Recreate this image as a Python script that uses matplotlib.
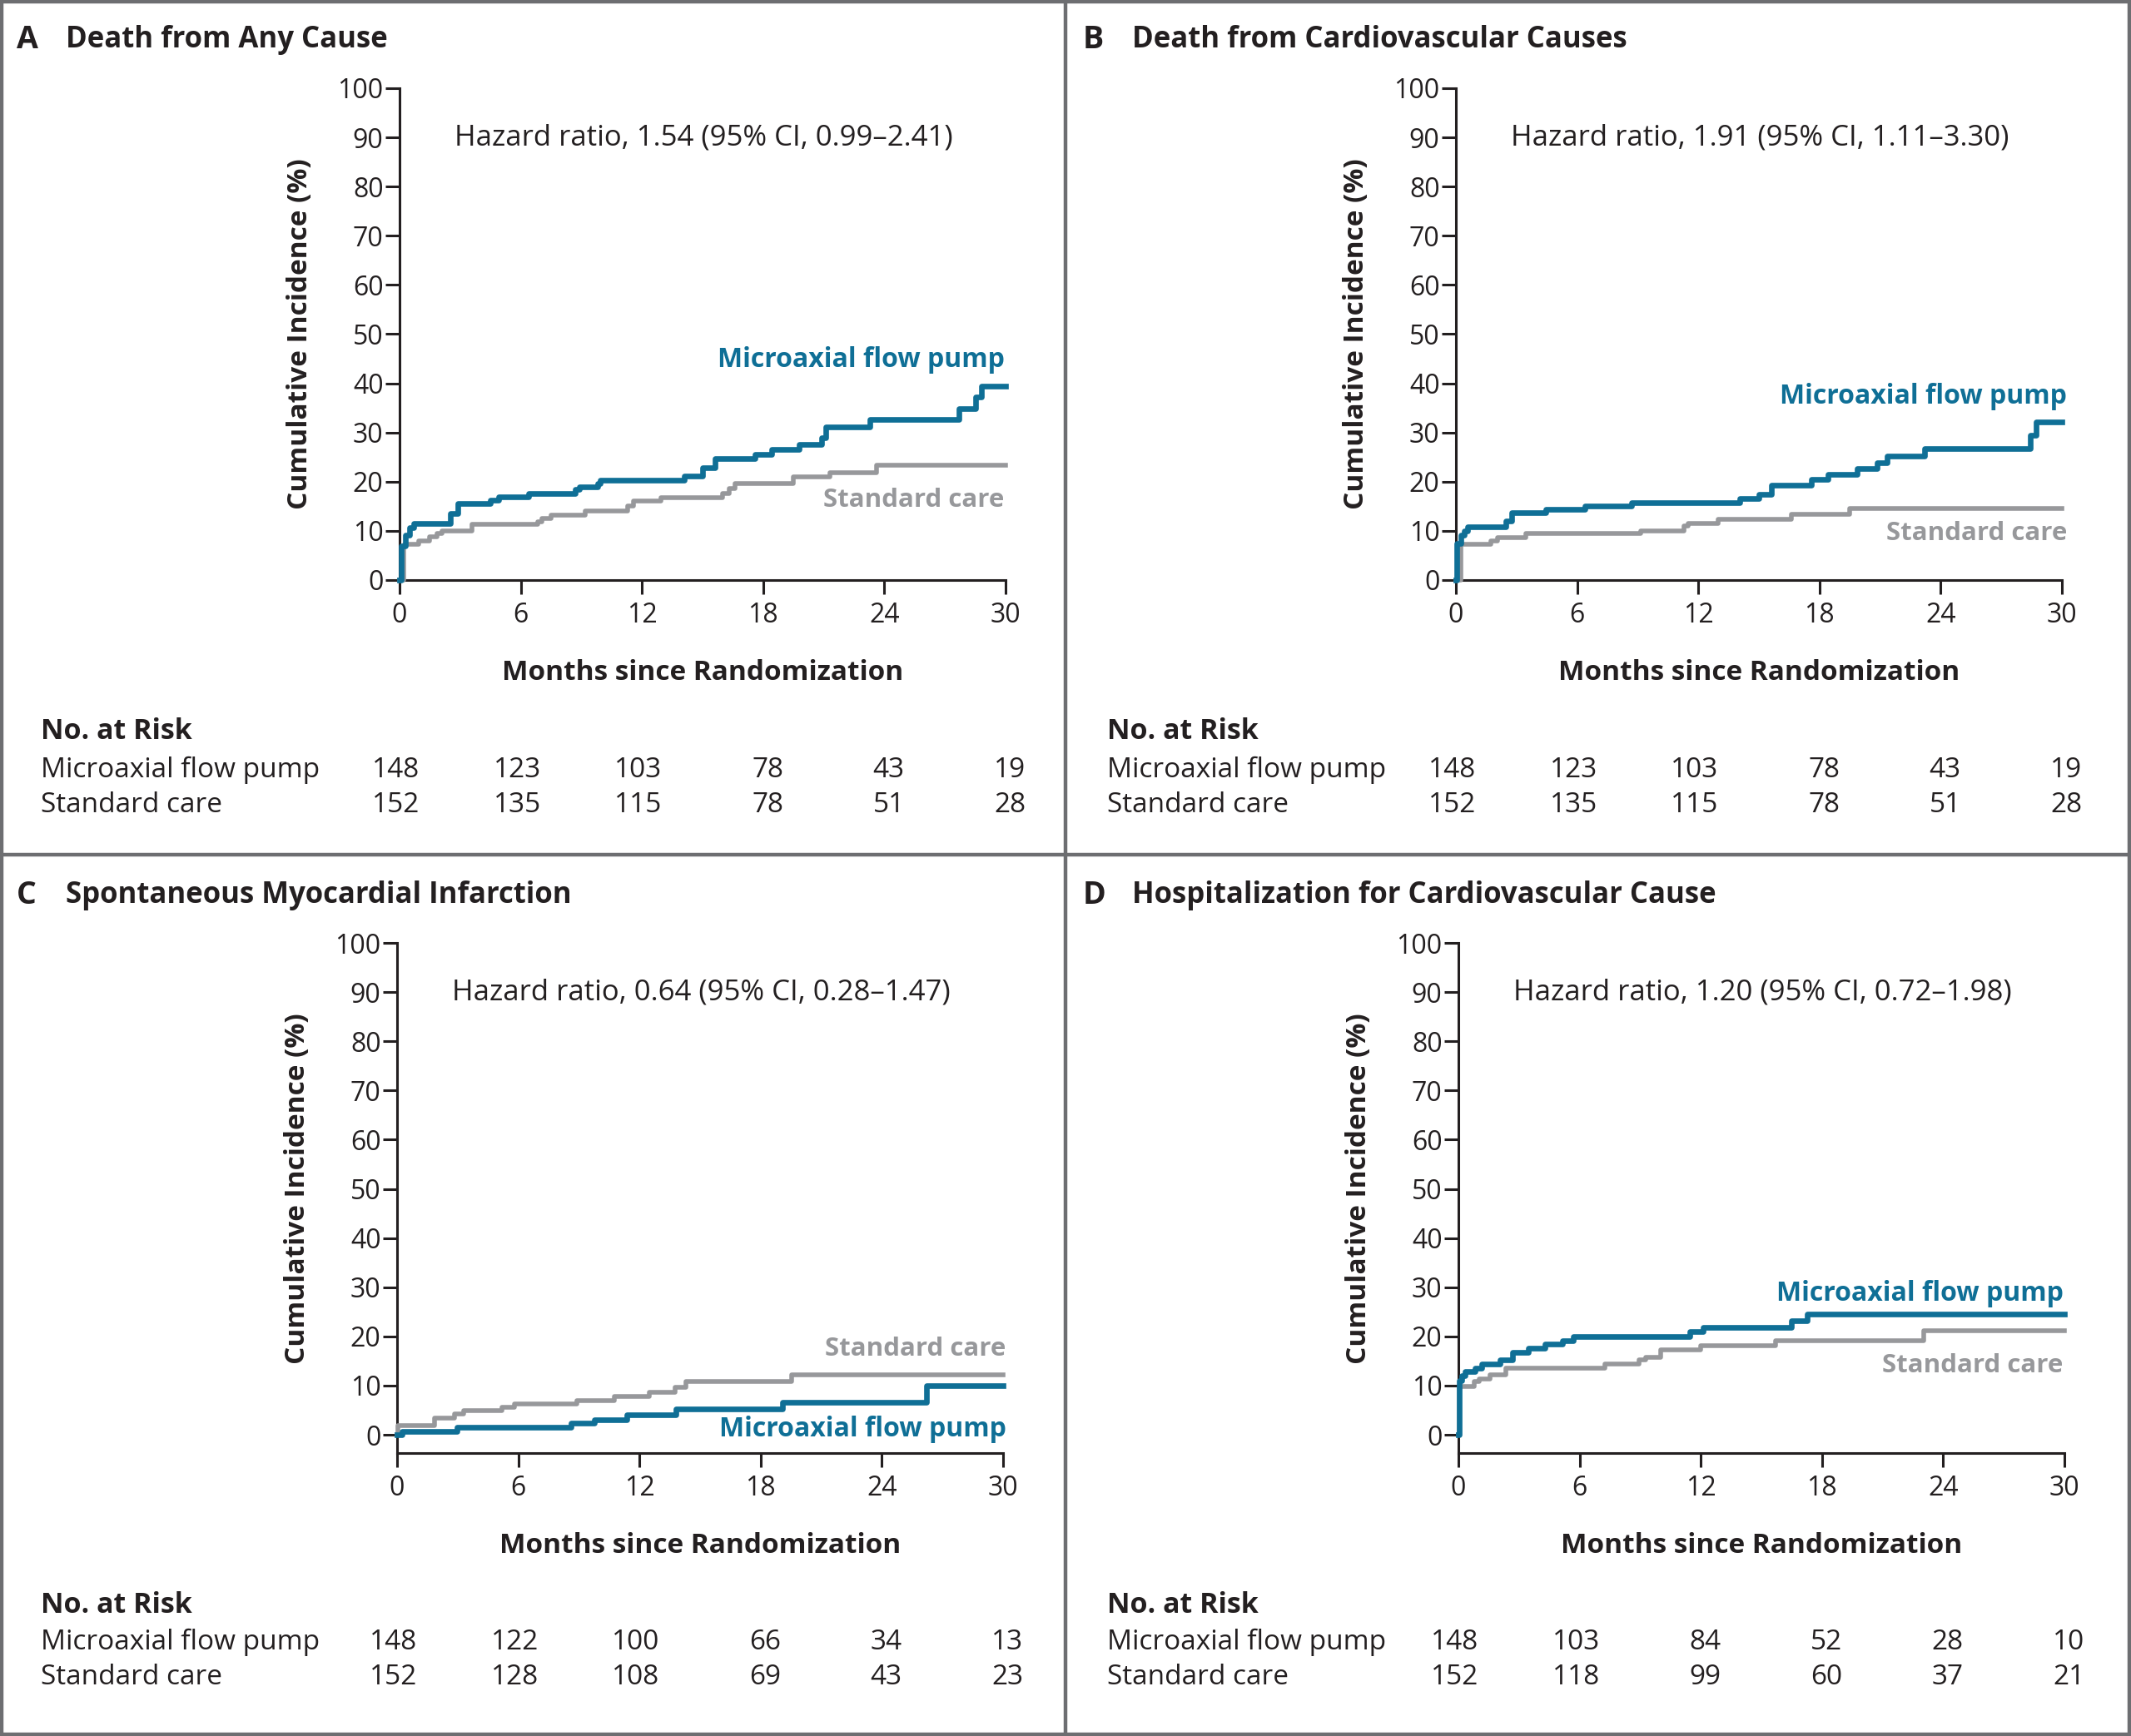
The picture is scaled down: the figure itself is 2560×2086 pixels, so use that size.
import numpy as np
import matplotlib.pyplot as plt
from matplotlib.lines import Line2D
from matplotlib.transforms import blended_transform_factory

plt.rcParams['font.family'] = ['Open Sans', 'DejaVu Sans']

# step curves: months, cumulative incidence (%)
a_pump_t = [0, 0.1, 0.3, 0.5, 0.7, 2.5, 2.9, 4.5, 4.9, 6.4, 8.7, 8.9, 9.8, 9.95, 14.1, 15.0, 15.6,
            17.6, 18.4, 19.8, 20.9, 21.1, 23.3, 27.7, 28.5, 28.8, 30]
a_pump_y = [0, 7.0, 9.2, 10.7, 11.5, 13.6, 15.5, 16.2, 17.0, 17.6, 18.4, 19.0, 19.6, 20.3, 21.1, 22.8, 24.7,
            25.6, 26.6, 27.6, 29.0, 31.2, 32.6, 34.9, 37.3, 39.5, 39.5]
a_std_t = [0, 0.2, 0.25, 0.95, 1.5, 1.85, 2.1, 3.6, 6.85, 7.05, 7.5, 9.2, 11.3, 11.6, 12.95, 16.0, 16.3,
           16.6, 19.5, 21.3, 23.6, 30]
a_std_y = [0, 6.9, 7.3, 7.9, 8.8, 9.4, 10.0, 11.3, 11.9, 12.5, 13.2, 14.0, 15.1, 16.0, 16.8, 17.6, 18.6,
           19.6, 20.9, 21.9, 23.4, 23.4]

b_pump_t = [0, 0.04, 0.25, 0.42, 0.57, 2.46, 2.78, 4.47, 6.4, 8.68, 14.05, 15.0, 15.6, 17.6, 18.4, 19.85,
            20.85, 21.35, 23.2, 28.44, 28.73, 30]
b_pump_y = [0, 7.5, 9.2, 10.0, 10.9, 12.0, 13.7, 14.4, 15.1, 15.8, 16.6, 17.5, 19.3, 20.5, 21.5, 22.6,
            23.9, 25.2, 26.8, 29.5, 32.1, 32.1]
b_std_t = [0, 0.25, 1.73, 2.04, 3.45, 9.14, 11.3, 11.5, 13.0, 16.6, 19.5, 30]
b_std_y = [0, 7.2, 8.0, 8.6, 9.4, 10.0, 11.0, 11.5, 12.4, 13.3, 14.5, 14.5]

c_pump_t = [0, 0.25, 2.95, 8.63, 9.75, 11.37, 13.8, 19.1, 26.2, 30]
c_pump_y = [0, 0.7, 1.5, 2.3, 3.1, 4.0, 5.2, 6.6, 10.0, 10.0]
c_std_t = [0, 0.05, 1.85, 2.86, 3.28, 5.18, 5.81, 8.9, 10.74, 12.5, 13.75, 14.3, 19.54, 30]
c_std_y = [0, 1.8, 3.4, 4.2, 4.9, 5.6, 6.3, 7.0, 7.7, 8.6, 9.6, 10.8, 12.2, 12.2]

d_pump_t = [0, 0.04, 0.17, 0.32, 0.84, 1.16, 2.06, 2.69, 3.47, 4.27, 5.16, 5.68, 11.47, 12.1, 16.5,
            17.26, 30]
d_pump_y = [0, 11.0, 12.0, 12.8, 13.6, 14.4, 15.2, 16.7, 17.6, 18.4, 19.2, 19.9, 20.9, 21.8, 23.2,
            24.5, 24.5]
d_std_t = [0, 0.04, 0.1, 0.8, 1.05, 1.58, 2.36, 7.26, 8.95, 9.26, 10.0, 12.0, 15.68, 23.05, 30]
d_std_y = [0, 9.5, 9.8, 10.8, 11.4, 12.1, 13.5, 14.4, 15.2, 15.8, 17.2, 18.1, 19.2, 21.1, 21.1]

months = [0, 6, 12, 18, 24, 30]
ab_risk_pump = [148, 123, 103, 78, 43, 19]
ab_risk_std = [152, 135, 115, 78, 51, 28]
c_risk_pump = [148, 122, 100, 66, 34, 13]
c_risk_std = [152, 128, 108, 69, 43, 23]
d_risk_pump = [148, 103, 84, 52, 28, 10]
d_risk_std = [152, 118, 99, 60, 37, 21]

letters = ['A', 'B', 'C', 'D']
titles = ['Death from Any Cause', 'Death from Cardiovascular Causes',
          'Spontaneous Myocardial Infarction', 'Hospitalization for Cardiovascular Cause']
hazards = ['Hazard ratio, 1.54 (95% CI, 0.99\u20132.41)', 'Hazard ratio, 1.91 (95% CI, 1.11\u20133.30)',
           'Hazard ratio, 0.64 (95% CI, 0.28\u20131.47)', 'Hazard ratio, 1.20 (95% CI, 0.72\u20131.98)']

blue = '#0f6f96'
grey = '#97989b'
ink = '#231f20'
frame = '#6d6e71'

W, H = 2560, 2086
fig = plt.figure(figsize=(W / 100, H / 100), dpi=100)

panels = [
    dict(t1=a_pump_t, y1=a_pump_y, t2=a_std_t, y2=a_std_y, r1=ab_risk_pump, r2=ab_risk_std,
         x0=480, y100=106, ybot=0, lab1=44.8, lab2=16.3, xr=29.95, tx=20, ty=48, rows=(879, 925, 968)),
    dict(t1=b_pump_t, y1=b_pump_y, t2=b_std_t, y2=b_std_y, r1=ab_risk_pump, r2=ab_risk_std,
         x0=1749, y100=106, ybot=0, lab1=37.3, lab2=9.4, xr=30.25, tx=1301, ty=48, rows=(879, 925, 968)),
    dict(t1=c_pump_t, y1=c_pump_y, t2=c_std_t, y2=c_std_y, r1=c_risk_pump, r2=c_risk_std,
         x0=477, y100=1133, ybot=-3.7, lab1=1.1, lab2=17.4, xr=30.15, tx=20, ty=1076, rows=(1929, 1973, 2015)),
    dict(t1=d_pump_t, y1=d_pump_y, t2=d_std_t, y2=d_std_y, r1=d_risk_pump, r2=d_risk_std,
         x0=1752, y100=1133, ybot=-3.7, lab1=28.7, lab2=14.1, xr=29.95, tx=1301, ty=1076, rows=(1929, 1973, 2015)),
]

pw = 728      # axes width in px
ph = 591      # px for 100 percentage points

for i, p in enumerate(panels):
    bottom_px = p['y100'] + ph * (100 - p['ybot']) / 100
    axh = bottom_px - p['y100']
    ax = fig.add_axes([p['x0'] / W, 1 - bottom_px / H, pw / W, axh / H])
    ax.step(p['t2'], p['y2'], where='post', color=grey, lw=4.0, clip_on=False, zorder=3)
    ax.step(p['t1'], p['y1'], where='post', color=blue, lw=4.8, clip_on=False, zorder=4)
    ax.set_xlim(0, 30)
    ax.set_ylim(p['ybot'], 100)
    ax.set_xticks(months)
    ax.set_yticks(np.arange(0, 101, 10))
    for s in ('top', 'right'):
        ax.spines[s].set_visible(False)
    for s in ('left', 'bottom'):
        ax.spines[s].set_linewidth(2.2)
        ax.spines[s].set_color(ink)
    ax.tick_params(direction='out', length=12, width=2.2, colors=ink, labelsize=23, pad=2)
    ax.tick_params(axis='x', pad=7)
    ax.patch.set_alpha(0)

    hgt = 100 - p['ybot']
    ax.set_xlabel('Months since Randomization', fontsize=24, fontweight='bold', color=ink, va='center')
    ax.set_ylabel('Cumulative Incidence (%)', fontsize=24, fontweight='bold', color=ink, va='center')
    ax.xaxis.set_label_coords(0.5, -112 / axh)
    ax.yaxis.set_label_coords(-0.164, (50 - p['ybot']) / hgt)

    ax.text(2.7, 90, hazards[i], fontsize=25, color=ink, va='center', ha='left')
    ax.text(p['xr'], p['lab1'], 'Microaxial flow pump', fontsize=23, fontweight='bold', color=blue,
            ha='right', va='center')
    ax.text(p['xr'], p['lab2'], 'Standard care', fontsize=22.5, fontweight='bold', color=grey,
            ha='right', va='center')

    # panel heading
    fig.text(p['tx'] / W, 1 - p['ty'] / H, letters[i], fontsize=27, fontweight='bold', color=ink,
             ha='left', va='center')
    fig.text((p['tx'] + 59) / W, 1 - p['ty'] / H, titles[i], fontsize=25, fontweight='bold', color=ink,
             ha='left', va='center')

    # number at risk table
    lx = (p['tx'] + 29) / W
    yh, yr1, yr2 = p['rows']
    fig.text(lx, 1 - yh / H, 'No. at Risk', fontsize=24.5, fontweight='bold', color=ink, va='center')
    fig.text(lx, 1 - yr1 / H, 'Microaxial flow pump', fontsize=24, color=ink, va='center')
    fig.text(lx, 1 - yr2 / H, 'Standard care', fontsize=24, color=ink, va='center')
    trans = blended_transform_factory(ax.transData, fig.transFigure)
    for m, n1, n2 in zip(months, p['r1'], p['r2']):
        ax.text(m + 1.0, 1 - yr1 / H, str(n1), transform=trans, fontsize=24, color=ink,
                ha='right', va='center', clip_on=False)
        ax.text(m + 1.0, 1 - yr2 / H, str(n2), transform=trans, fontsize=24, color=ink,
                ha='right', va='center', clip_on=False)

# frame and panel dividers
for xs, ys in [([2 / W, 2 / W], [0, 1]), ([1 - 2 / W, 1 - 2 / W], [0, 1]),
               ([0, 1], [1 - 2 / H, 1 - 2 / H]), ([0, 1], [2 / H, 2 / H]),
               ([1280 / W, 1280 / W], [0, 1]), ([0, 1], [1 - 1027 / H, 1 - 1027 / H])]:
    fig.add_artist(Line2D(xs, ys, color=frame, lw=3.2))

fig.savefig('out.png', dpi=100)
